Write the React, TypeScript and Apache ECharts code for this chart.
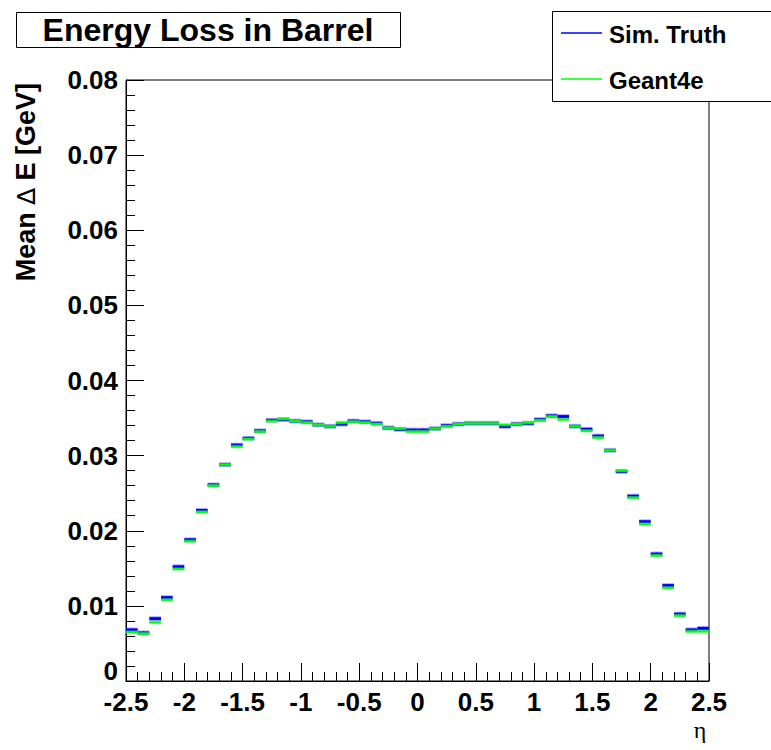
import React, { useEffect, useRef } from "react";
import * as echarts from "echarts";

const etaCenters = [
  -2.45, -2.35, -2.25, -2.15, -2.05, -1.95, -1.85, -1.75, -1.65, -1.55,
  -1.45, -1.35, -1.25, -1.15, -1.05, -0.95, -0.85, -0.75, -0.65, -0.55,
  -0.45, -0.35, -0.25, -0.15, -0.05, 0.05, 0.15, 0.25, 0.35, 0.45,
  0.55, 0.65, 0.75, 0.85, 0.95, 1.05, 1.15, 1.25, 1.35, 1.45,
  1.55, 1.65, 1.75, 1.85, 1.95, 2.05, 2.15, 2.25, 2.35, 2.45,
];
const binHalfWidth = 0.05;

const simTruth = [
  0.0068, 0.0064, 0.0083, 0.0111, 0.0152, 0.0188, 0.0227, 0.0261, 0.0288, 0.0314,
  0.0323, 0.0333, 0.0347, 0.0348, 0.0346, 0.0345, 0.0341, 0.0339, 0.0342, 0.0346,
  0.0345, 0.0343, 0.0337, 0.0335, 0.0334, 0.0334, 0.0336, 0.034, 0.0342, 0.0343,
  0.0343, 0.0343, 0.0339, 0.0342, 0.0343, 0.0348, 0.0353, 0.0352, 0.0339, 0.0335,
  0.0326, 0.0307, 0.0279, 0.0246, 0.0212, 0.0169, 0.0127, 0.0089, 0.0068, 0.007,
];
const simTruthErr = [
  0.0002, 0.0002, 0.0002, 0.0002, 0.0002, 0.0002, 0.0002, 0.0002, 0.0002, 0.0002,
  0.0002, 0.0002, 0.0002, 0.0002, 0.0002, 0.0002, 0.0002, 0.0002, 0.0002, 0.0002,
  0.0002, 0.0002, 0.0002, 0.0002, 0.0002, 0.0002, 0.0002, 0.0002, 0.0002, 0.0002,
  0.0002, 0.0002, 0.0002, 0.0002, 0.0002, 0.0002, 0.0002, 0.0002, 0.0002, 0.0002,
  0.0002, 0.0002, 0.0002, 0.0002, 0.0002, 0.0002, 0.0002, 0.0002, 0.0002, 0.0002,
];
const geant4e = [
  0.0065, 0.0063, 0.0078, 0.0108, 0.0149, 0.0186, 0.0225, 0.026, 0.0288, 0.0312,
  0.0322, 0.0332, 0.0346, 0.0349, 0.0346, 0.0344, 0.0341, 0.0339, 0.0344, 0.0345,
  0.0344, 0.0342, 0.0337, 0.0336, 0.0332, 0.0332, 0.0336, 0.0339, 0.0342, 0.0343,
  0.0343, 0.0343, 0.0341, 0.0342, 0.0344, 0.0347, 0.0352, 0.0348, 0.0339, 0.0333,
  0.0324, 0.0307, 0.028, 0.0244, 0.0209, 0.0167, 0.0124, 0.0087, 0.0066, 0.0066,
];
const geant4eErr = [
  0.0001, 0.0001, 0.0001, 0.0001, 0.0001, 0.0001, 0.0001, 0.0001, 0.0001, 0.0001,
  0.0001, 0.0001, 0.0001, 0.0001, 0.0001, 0.0001, 0.0001, 0.0001, 0.0001, 0.0001,
  0.0001, 0.0001, 0.0001, 0.0001, 0.0001, 0.0001, 0.0001, 0.0001, 0.0001, 0.0001,
  0.0001, 0.0001, 0.0001, 0.0001, 0.0001, 0.0001, 0.0001, 0.0001, 0.0001, 0.0001,
  0.0001, 0.0001, 0.0001, 0.0001, 0.0001, 0.0001, 0.0001, 0.0001, 0.0001, 0.0001,
];

const seriesNames = ["Sim. Truth", "Geant4e"];
const titleText = "Energy Loss in Barrel";
const yTitleParts = ["Mean ", "\u2206", " E [GeV]"];
const xTitle = "\u03b7";
const yZeroLabel = "0";

const SANS = "'Liberation Sans', Arial, Helvetica, sans-serif";

function makeRender(color: string, halo: string, core: number, haloW: number) {
  return (params: any, api: any) => {
    const x = api.value(0);
    const v = api.value(1);
    const e = api.value(2);
    const p1 = api.coord([x - binHalfWidth, v]);
    const p2 = api.coord([x + binHalfWidth, v]);
    const e1 = api.coord([x, v - e]);
    const e2 = api.coord([x, v + e]);
    return {
      type: "group",
      children: [
        {
          type: "line",
          shape: { x1: p1[0], y1: p1[1], x2: p2[0], y2: p2[1] },
          style: { stroke: halo, lineWidth: haloW },
        },
        {
          type: "line",
          shape: { x1: p1[0], y1: p1[1], x2: p2[0], y2: p2[1] },
          style: { stroke: color, lineWidth: core },
        },
        {
          type: "line",
          shape: { x1: e1[0], y1: e1[1], x2: e2[0], y2: e2[1] },
          style: { stroke: color, lineWidth: 1 },
        },
      ],
    };
  };
}

export default function App() {
  const ref = useRef<HTMLDivElement>(null);
  useEffect(() => {
    if (!ref.current) return;
    const chart = echarts.init(ref.current, undefined, { renderer: "svg" });
    const blueData = etaCenters.map((c, i) => [c, simTruth[i], simTruthErr[i]]);
    const greenData = etaCenters.map((c, i) => [c, geant4e[i], geant4eErr[i]]);
    chart.setOption({
      animation: false,
      backgroundColor: "#ffffff",
      grid: {
        left: 126,
        right: 62,
        top: 80,
        bottom: 69,
        show: true,
        borderColor: "#000",
        borderWidth: 1,
        backgroundColor: "transparent",
      },
      xAxis: {
        type: "value",
        min: -2.5,
        max: 2.5,
        interval: 0.5,
        axisLine: { show: true, onZero: false, lineStyle: { color: "#000", width: 1 } },
        axisTick: { show: true, inside: true, length: 18, lineStyle: { color: "#000" } },
        minorTick: { show: true, splitNumber: 5, length: 9, lineStyle: { color: "#000" } },
        splitLine: { show: false },
        axisLabel: {
          color: "#000",
          fontFamily: SANS,
          fontWeight: "bold",
          fontSize: 26,
          lineHeight: 22,
          margin: 10,
        },
      },
      yAxis: {
        type: "value",
        min: 0,
        max: 0.08,
        interval: 0.01,
        axisLine: { show: true, onZero: false, lineStyle: { color: "#000", width: 1 } },
        axisTick: { show: true, inside: true, length: 18, lineStyle: { color: "#000" } },
        minorTick: { show: true, splitNumber: 5, length: 9, lineStyle: { color: "#000" } },
        splitLine: { show: false },
        axisLabel: {
          color: "#000",
          fontFamily: SANS,
          fontWeight: "bold",
          fontSize: 26,
          margin: 8,
          showMinLabel: false,
          formatter: (v: number) => v.toFixed(2),
        },
      },
      series: [
        {
          name: seriesNames[0],
          type: "custom",
          renderItem: makeRender("#0000ff", "rgba(80,80,255,0.45)", 3, 5),
          data: blueData,
          clip: true,
          z: 2,
        },
        {
          name: seriesNames[1],
          type: "custom",
          renderItem: makeRender("#00ff00", "rgba(80,255,80,0.45)", 2, 3.5),
          data: greenData,
          clip: true,
          z: 3,
        },
      ],
      graphic: [
        {
          type: "rect",
          shape: { x: 16.5, y: 12.5, width: 384, height: 35 },
          style: { fill: "#fff", stroke: "#000", lineWidth: 1 },
        },
        {
          type: "text",
          x: 208,
          y: 30,
          style: {
            text: titleText,
            fill: "#000",
            font: `bold 32px ${SANS}`,
            align: "center",
            verticalAlign: "middle",
          },
        },
        {
          type: "rect",
          shape: { x: 552.5, y: 11.5, width: 240, height: 90 },
          style: { fill: "#fff", stroke: "#000", lineWidth: 1 },
          z: 10,
        },
        {
          type: "line",
          shape: { x1: 561, y1: 33, x2: 602, y2: 33 },
          style: { stroke: "#0000ff", lineWidth: 1.5 },
          z: 11,
        },
        {
          type: "text",
          x: 609,
          y: 34,
          style: {
            text: seriesNames[0],
            fill: "#000",
            font: `bold 24px ${SANS}`,
            align: "left",
            verticalAlign: "middle",
          },
          z: 11,
        },
        {
          type: "line",
          shape: { x1: 561, y1: 79, x2: 602, y2: 79 },
          style: { stroke: "#00ff00", lineWidth: 1.5 },
          z: 11,
        },
        {
          type: "text",
          x: 609,
          y: 80,
          style: {
            text: seriesNames[1],
            fill: "#000",
            font: `bold 24px ${SANS}`,
            align: "left",
            verticalAlign: "middle",
          },
          z: 11,
        },
        {
          type: "text",
          x: 118,
          y: 671,
          style: {
            text: yZeroLabel,
            fill: "#000",
            font: `bold 26px ${SANS}`,
            lineHeight: 18,
            align: "right",
            verticalAlign: "middle",
          },
        },
        {
          type: "text",
          x: 26,
          y: 83,
          rotation: Math.PI / 2,
          style: {
            text: `{b|${yTitleParts[0]}}{d|${yTitleParts[1]}}{b|${yTitleParts[2]}}`,
            align: "right",
            verticalAlign: "middle",
            rich: {
              b: { fill: "#000", fontFamily: SANS, fontWeight: "bold", fontSize: 27 },
              d: { fill: "#000", fontFamily: "'DejaVu Sans', sans-serif", fontWeight: "normal", fontSize: 25 },
            },
          },
        },
        {
          type: "text",
          x: 700,
          y: 730,
          style: {
            text: xTitle,
            fill: "#000",
            font: `24px 'Liberation Serif', 'DejaVu Serif', serif`,
            lineHeight: 20,
            align: "center",
            verticalAlign: "middle",
          },
        },
      ],
    });
    return () => chart.dispose();
  }, []);
  return (
    <div
      ref={ref}
      style={{ position: "fixed", left: 0, top: 0, width: 771, height: 750, background: "#fff" }}
    />
  );
}
